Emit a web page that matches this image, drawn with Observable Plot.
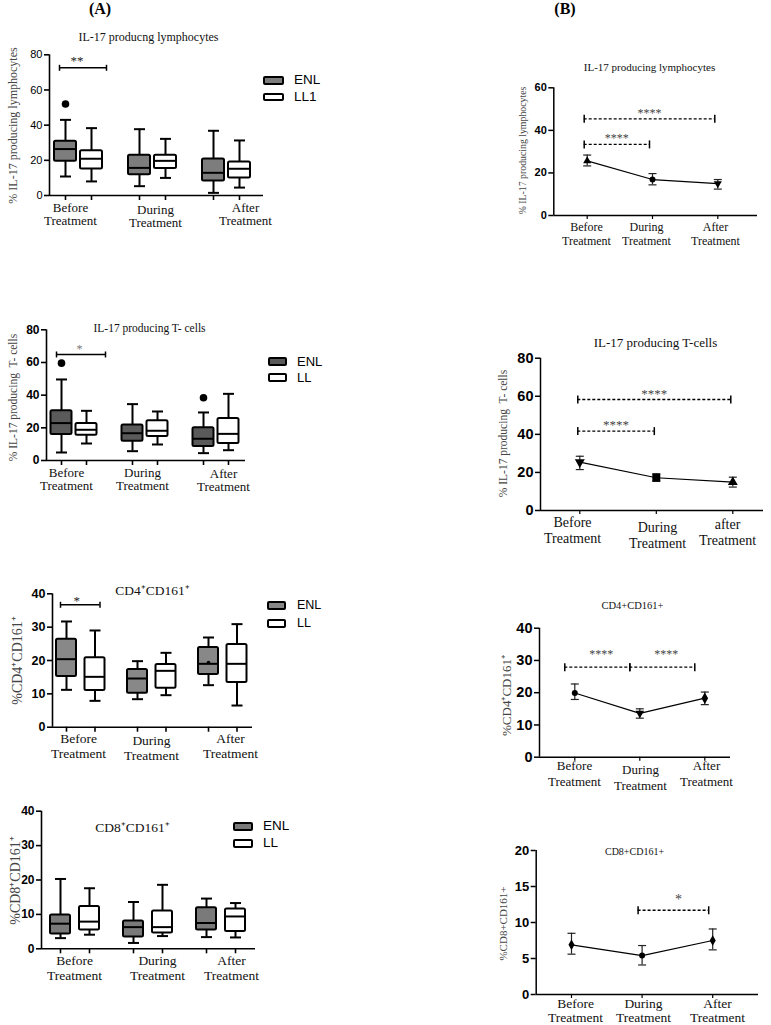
<!DOCTYPE html>
<html><head><meta charset="utf-8">
<script src="https://cdn.jsdelivr.net/npm/d3@7"></script>
<script src="https://cdn.jsdelivr.net/npm/@observablehq/plot@0.6"></script>
<style>
body{margin:0;background:#fff;}
#page{position:relative;width:771px;height:1025px;overflow:hidden;background:#fff;}
.hdr{position:absolute;font:bold 16px 'Liberation Serif','Times New Roman',serif;transform:translate(-50%,-50%);line-height:1;color:#000;}
</style></head><body><div id="page"></div>
<script>
// ---------------- DATA ----------------
const phases = ["Before\nTreatment", "During\nTreatment", "After\nTreatment"];
const phasesB2 = ["Before\nTreatment", "During\nTreatment", "after\nTreatment"];

// (A) box summaries per phase: [min, Q1, median, Q3, max]
const lymphGroups = ["ENL", "LL1"];
const lymphENL = [[10.8, 19.5, 26.4, 30.9, 43.0], [5.3, 11.8, 15.7, 22.9, 37.7], [1.5, 8.3, 12.9, 20.7, 36.8]];
const lymphLL = [[8.0, 15.0, 20.9, 25.4, 38.3], [10.0, 15.4, 19.7, 22.9, 32.2], [4.5, 9.9, 15.2, 19.0, 31.3]];
const lymphOutliers = [{phase: 0, group: 0, value: 52}];
const lymphSig = [{phase: 0, label: "**", level: 72.6}];

const tcellGroups = ["ENL", "LL"];
const tcellENL = [[4.9, 15.9, 22.9, 30.4, 49.6], [5.7, 11.8, 16.7, 21.8, 34.5], [4.5, 8.6, 13.3, 20.0, 29.4]];
const tcellLL = [[10.4, 15.5, 18.8, 22.7, 30.4], [9.8, 14.7, 18.2, 24.3, 30.0], [6.3, 10.4, 16.3, 25.7, 40.8]];
const tcellOutliers = [{phase: 0, group: 0, value: 59.6}, {phase: 2, group: 0, value: 38.4}];
const tcellSig = [{phase: 0, label: "*", level: 64.9}];

const cd4Groups = ["ENL", "LL"];
const cd4ENL = [[11.2, 15.2, 20.4, 26.4, 31.7], [8.4, 10.2, 14.6, 17.3, 19.8], [12.6, 15.8, 19.0, 23.9, 26.9]];
const cd4LL = [[7.9, 11.0, 15.1, 20.8, 29.0], [9.6, 11.7, 16.9, 18.8, 22.3], [6.5, 13.4, 19.0, 24.8, 30.9]];
const cd4Means = [{phase: 2, group: 0, value: 19.4}];
const cd4Sig = [{phase: 0, label: "*", level: 36.7}];

const cd8Groups = ["ENL", "LL"];
const cd8ENL = [[3.1, 4.3, 7.3, 9.8, 20.3], [1.7, 3.4, 6.3, 8.1, 13.6], [3.4, 5.5, 7.5, 11.9, 14.6]];
const cd8LL = [[4.1, 5.5, 7.9, 12.3, 17.6], [3.7, 4.6, 6.3, 11.0, 18.6], [3.3, 5.0, 9.4, 11.6, 13.3]];

// (B) mean with error bars
const lymphMean = [25.7, 16.9, 15.0], lymphLo = [23.3, 14.4, 12.4], lymphHi = [28.4, 19.7, 16.9];
const lymphSigB = [{from: 0, to: 2, level: 45.4, label: "****"}, {from: 0, to: 1, level: 33.4, label: "****"}];
const tcellMean = [25.4, 17.2, 14.9], tcellLo = [21.5, 15.4, 12.3], tcellHi = [28.5, 19.3, 17.5];
const tcellSigB = [{from: 0, to: 2, level: 58.3, label: "****"}, {from: 0, to: 1, level: 41.7, label: "****"}];
const cd4Mean = [19.9, 13.6, 18.3], cd4Lo = [17.9, 12.1, 16.3], cd4Hi = [22.7, 15.0, 20.2];
const cd4SigB = [{from: 0, to: 1, level: 27.9, label: "****"}, {from: 1, to: 2, level: 27.9, label: "****"}];
const cd8Mean = [6.9, 5.4, 7.5], cd8Lo = [5.6, 4.1, 6.2], cd8Hi = [8.5, 6.8, 9.1];
const cd8SigB = [{from: 1, to: 2, level: 11.7, label: "*"}];

// ---------------- HELPERS ----------------
const SERIF = "'Liberation Serif','Times New Roman',serif";
const SANS = "'Liberation Sans',Arial,sans-serif";
const page = document.getElementById("page");

const hbar = {draw(c, size) { const r = Math.sqrt(size / Math.PI); c.moveTo(-r, 0); c.lineTo(r, 0); }};
const vbar = {draw(c, size) { const r = Math.sqrt(size / Math.PI); c.moveTo(0, -r); c.lineTo(0, r); }};
const triUp = {draw(c, size) { const y = -Math.sqrt(size / (Math.sqrt(3) * 3)); c.moveTo(0, 2 * y); c.lineTo(-Math.sqrt(3) * y, -y); c.lineTo(Math.sqrt(3) * y, -y); c.closePath(); }};
const triDown = {draw(c, size) { const y = -Math.sqrt(size / (Math.sqrt(3) * 3)); c.moveTo(0, -2 * y); c.lineTo(-Math.sqrt(3) * y, y); c.lineTo(Math.sqrt(3) * y, y); c.closePath(); }};

function txt(L, s, px, py, opts = {}) {
  return Plot.text([s], {text: d => d, frameAnchor: "top-left", textAnchor: "middle", lineAnchor: "middle",
    dx: px - L.fl, dy: py - L.ft, fontFamily: SERIF, ...opts});
}
function xLabels(L, labels) {
  return labels.map((s, i) => txt(L, s, L.labX[i], L.labY[i] - 0.38 * L.labFont,
    {lineAnchor: "top", fontSize: L.labFont, lineHeight: L.labGap / L.labFont, fill: "#111"}));
}
function mount(L, marks, xDom, yDom) {
  const svg = Plot.plot({
    width: L.w, height: L.h,
    marginLeft: L.fl - L.left, marginRight: L.left + L.w - L.fr,
    marginTop: L.ft - L.top, marginBottom: L.top + L.h - L.fb,
    x: {type: "linear", domain: xDom},
    y: {type: "linear", domain: yDom},
    style: {background: "transparent", overflow: "visible", fontFamily: SERIF},
    marks
  });
  svg.style.position = "absolute";
  svg.style.left = L.left + "px";
  svg.style.top = L.top + "px";
  svg.style.maxWidth = "none";
  page.appendChild(svg);
}
function legend(L, groups) {
  groups.forEach((g, i) => {
    const sw = document.createElement("div");
    sw.style.cssText = `position:absolute;left:${L.legX}px;top:${L.legY + i * L.legGap}px;width:${L.legW}px;height:${L.legH}px;box-sizing:border-box;border:2px solid #000;border-radius:2px;background:${i === 0 ? L.fill : "#fff"}`;
    page.appendChild(sw);
    const t = document.createElement("div");
    t.textContent = g;
    t.style.cssText = `position:absolute;left:${L.legTX}px;top:${L.legY + i * L.legGap + L.legH / 2}px;transform:translateY(-50%);font:${L.legFont}px ${SANS};line-height:1;color:#000`;
    page.appendChild(t);
  });
}

function boxPanel(L, D) {
  const k = L.pxGroup / L.pxSlot;
  const slot = (p, g) => p * k + g;
  const xDom = [(L.fl - L.x0) / L.pxSlot, (L.fr - L.x0) / L.pxSlot];
  const hw = L.boxW / 2 / L.pxSlot;
  const rows = [];
  [D.enl, D.ll].forEach((arr, g) => arr.forEach((s, p) =>
    rows.push({p, g, x: slot(p, g), min: s[0], q1: s[1], med: s[2], q3: s[3], max: s[4]})));
  const outl = (D.outliers || []).map(o => ({x: slot(o.phase, o.group), y: o.value}));
  const means = (D.means || []).map(o => ({x: slot(o.phase, o.group), y: o.value}));
  const sig = (D.sig || []).map(s => ({x1: slot(s.phase, 0) + L.sigL / L.pxSlot, x2: slot(s.phase, 1) + L.sigR / L.pxSlot, y: s.level, label: s.label}));
  sig.forEach(s => s.mid = (s.x1 + s.x2) / 2);
  const sigEnds = sig.flatMap(s => [{x: s.x1, y: s.y}, {x: s.x2, y: s.y}]);
  const marks = [
    Plot.ruleY([0], {stroke: "#000", strokeWidth: 1.6}),
    Plot.ruleX([xDom[0]], {stroke: "#000", strokeWidth: 1.6}),
    Plot.axisY({ticks: D.yTicks, tickSize: 5, tickPadding: 2, strokeWidth: 1.6, fontFamily: SANS,
      fontSize: L.tickFont, fontWeight: L.tickWeight, fill: "#000", label: null}),
    Plot.axisX({ticks: rows.map(d => d.x), tickSize: 5, strokeWidth: 1.6, tickFormat: () => "", label: null}),
    Plot.ruleX(rows, {x: "x", y1: "min", y2: "max", stroke: "#000", strokeWidth: 2}),
    Plot.dot(rows, {x: "x", y: "min", symbol: hbar, r: L.capR, stroke: "#000", strokeWidth: 2, fill: "none"}),
    Plot.dot(rows, {x: "x", y: "max", symbol: hbar, r: L.capR, stroke: "#000", strokeWidth: 2, fill: "none"}),
    Plot.rect(rows, {x1: d => d.x - hw, x2: d => d.x + hw, y1: "q1", y2: "q3",
      fill: d => d.g === 0 ? L.fill : "#fff", stroke: "#000", strokeWidth: 2, rx: 1.5}),
    Plot.ruleY(rows, {x1: d => d.x - hw, x2: d => d.x + hw, y: "med", stroke: "#000", strokeWidth: 2}),
    Plot.dot(outl, {x: "x", y: "y", r: 3.8, fill: "#000"}),
    Plot.dot(means, {x: "x", y: "y", r: 1.8, fill: "#000"}),
    Plot.ruleY(sig, {x1: "x1", x2: "x2", y: "y", stroke: "#000", strokeWidth: 1.5}),
    Plot.dot(sigEnds, {x: "x", y: "y", symbol: vbar, r: 3, stroke: "#000", strokeWidth: 1.5, fill: "none"}),
    Plot.text(sig, {x: "mid", y: "y", text: "label", lineAnchor: "bottom", dx: L.starDx, dy: L.starDy,
      fontFamily: SERIF, fontSize: L.starFont, fill: L.starFill}),
    txt(L, D.title, L.titleX, L.titleY, {fontSize: L.titleFont, fill: "#111"}),
    txt(L, D.ylabel, L.ylabX, L.ylabY, {rotate: -90, fontSize: L.ylabFont, fill: "#444"}),
    ...xLabels(L, D.labels)
  ];
  mount(L, marks, xDom, D.yDom);
  legend(L, D.groups);
}

function linePanel(L, D) {
  const xDom = [(L.fl - L.x0) / L.step, (L.fr - L.x0) / L.step];
  const rows = D.mean.map((m, i) => ({i, m, lo: D.lo[i], hi: D.hi[i]}));
  const sig = D.sig.map(s => ({...s, mid: (s.from + s.to) / 2}));
  const sigEnds = sig.flatMap(s => [{x: s.from, y: s.level}, {x: s.to, y: s.level}]);
  const marks = [
    Plot.ruleY([0], {stroke: "#000", strokeWidth: 1.5}),
    Plot.ruleX([xDom[0]], {stroke: "#000", strokeWidth: 1.5}),
    Plot.axisY({ticks: D.yTicks, tickSize: 5, tickPadding: 2, strokeWidth: 1.5, fontFamily: SANS,
      fontSize: L.tickFont, fontWeight: "bold", fill: "#000", label: null}),
    Plot.axisX({ticks: rows.map(d => d.i), tickSize: 4, strokeWidth: 1.2, tickFormat: () => "", label: null}),
    Plot.line(rows, {x: "i", y: "m", stroke: "#000", strokeWidth: 1.2}),
    Plot.ruleX(rows, {x: "i", y1: "lo", y2: "hi", stroke: "#222", strokeWidth: 1.2}),
    Plot.dot(rows, {x: "i", y: "lo", symbol: hbar, r: 4, stroke: "#222", strokeWidth: 1.2, fill: "none"}),
    Plot.dot(rows, {x: "i", y: "hi", symbol: hbar, r: 4, stroke: "#222", strokeWidth: 1.2, fill: "none"}),
    ...rows.map((r, j) => Plot.dot([r], {x: "i", y: "m", symbol: L.symbols[j], r: L.markR[j], fill: "#000", stroke: "none"})),
    Plot.ruleY(sig, {x1: "from", x2: "to", y: "level", stroke: "#000", strokeWidth: 1.3, strokeDasharray: "3,2", dx: L.sigDx}),
    Plot.dot(sigEnds, {x: "x", y: "y", symbol: vbar, r: 4, stroke: "#000", strokeWidth: 1.5, fill: "none", dx: L.sigDx}),
    Plot.text(sig, {x: "mid", y: "level", text: "label", lineAnchor: "bottom", dx: L.sigDx + L.starDx, dy: L.starDy,
      fontFamily: SERIF, fontSize: L.starFont, fill: "#444"}),
    txt(L, D.title, L.titleX, L.titleY, {fontSize: L.titleFont, fill: "#111"}),
    txt(L, D.ylabel, L.ylabX, L.ylabY, {rotate: -90, fontSize: L.ylabFont, fill: "#444"}),
    ...xLabels(L, D.labels)
  ];
  mount(L, marks, xDom, D.yDom);
}

// ---------------- HEADERS ----------------
[["(A)", 100, 9], ["(B)", 565, 9]].forEach(([s, x, y]) => {
  const d = document.createElement("div"); d.className = "hdr"; d.textContent = s;
  d.style.left = x + "px"; d.style.top = y + "px"; page.appendChild(d);
});

// ---------------- PANELS (A) ----------------
boxPanel({left: 0, top: 0, w: 400, h: 240, fl: 49, fr: 263, ft: 54.3, fb: 195,
  x0: 65, pxSlot: 26, pxGroup: 74, boxW: 22, capR: 5.5, fill: "#7d7d7d",
  tickFont: 11, tickWeight: "normal",
  titleX: 148, titleY: 37, titleFont: 12, ylabX: 13, ylabY: 125, ylabFont: 12,
  labX: [70, 155, 245], labY: [206, 208, 206], labGap: 14, labFont: 13,
  sigL: -6, sigR: 15, starDx: -6, starDy: -2.5, starFont: 13, starFill: "#222",
  legX: 263, legY: 76, legW: 21, legH: 8.5, legGap: 16.7, legTX: 294, legFont: 13.5
}, {enl: lymphENL, ll: lymphLL, outliers: lymphOutliers, sig: lymphSig, groups: lymphGroups,
  yDom: [0, 80], yTicks: [0, 20, 40, 60, 80], title: "IL-17 producng lymphocytes",
  ylabel: "% IL-17 producing lymphocytes", labels: phases});

boxPanel({left: 0, top: 250, w: 400, h: 260, fl: 46, fr: 245, ft: 329.3, fb: 460,
  x0: 61, pxSlot: 25, pxGroup: 71, boxW: 21, capR: 5.5, fill: "#5a5a5a",
  tickFont: 12, tickWeight: "bold",
  titleX: 149, titleY: 328, titleFont: 11.5, ylabX: 13, ylabY: 397, ylabFont: 11.5,
  labX: [66, 142, 223], labY: [471, 471, 472], labGap: 14, labFont: 13,
  sigL: -5, sigR: 19, starDx: -1.5, starDy: -1, starFont: 12, starFill: "#777",
  legX: 268, legY: 357, legW: 19, legH: 8.5, legGap: 16, legTX: 297, legFont: 13
}, {enl: tcellENL, ll: tcellLL, outliers: tcellOutliers, sig: tcellSig, groups: tcellGroups,
  yDom: [0, 80], yTicks: [0, 20, 40, 60, 80], title: "IL-17 producing T- cells",
  ylabel: "% IL-17 producing  T- cells", labels: phases});

boxPanel({left: 0, top: 540, w: 400, h: 230, fl: 52, fr: 252, ft: 593.3, fb: 726.7,
  x0: 66, pxSlot: 28.5, pxGroup: 71, boxW: 20, capR: 5.5, fill: "#888888",
  tickFont: 12.5, tickWeight: "bold",
  titleX: 152, titleY: 590, titleFont: 13.5, ylabX: 17, ylabY: 660, ylabFont: 14,
  labX: [78, 151, 230], labY: [737, 739, 737], labGap: 15, labFont: 13.5,
  sigL: -6, sigR: 5, starDx: -3.5, starDy: 0, starFont: 13, starFill: "#222",
  legX: 267, legY: 601, legW: 19, legH: 8.5, legGap: 18, legTX: 297, legFont: 12.5
}, {enl: cd4ENL, ll: cd4LL, means: cd4Means, sig: cd4Sig, groups: cd4Groups,
  yDom: [0, 40], yTicks: [0, 10, 20, 30, 40], title: "CD4⁺CD161⁺",
  ylabel: "%CD4⁺CD161⁺", labels: phases});

boxPanel({left: 0, top: 790, w: 400, h: 200, fl: 41, fr: 255, ft: 810.7, fb: 948.3,
  x0: 60, pxSlot: 29, pxGroup: 73, boxW: 20, capR: 5.5, fill: "#7a7a7a",
  tickFont: 12, tickWeight: "bold",
  titleX: 132, titleY: 827, titleFont: 13.5, ylabX: 15, ylabY: 880, ylabFont: 14,
  labX: [74, 157, 231], labY: [959, 959, 959], labGap: 15, labFont: 13.5,
  sigL: 0, sigR: 0, starDx: 0, starDy: 0, starFont: 13, starFill: "#222",
  legX: 233, legY: 822, legW: 20, legH: 8.5, legGap: 17, legTX: 263, legFont: 13.5
}, {enl: cd8ENL, ll: cd8LL, sig: [], groups: cd8Groups,
  yDom: [0, 40], yTicks: [0, 10, 20, 30, 40], title: "CD8⁺CD161⁺",
  ylabel: "%CD8⁺CD161⁺", labels: phases});

// ---------------- PANELS (B) ----------------
linePanel({left: 470, top: 40, w: 301, h: 220, fl: 553.3, fr: 757, ft: 87.3, fb: 215,
  x0: 586.7, step: 65.3, tickFont: 11,
  titleX: 649, titleY: 67, titleFont: 11, ylabX: 522, ylabY: 150, ylabFont: 9.8,
  labX: [586, 646, 715], labY: [225, 225, 225], labGap: 14, labFont: 12,
  symbols: [triUp, "circle", triDown], markR: [3, 3, 3],
  sigDx: -3, starDx: 0, starDy: -2, starFont: 12
}, {mean: lymphMean, lo: lymphLo, hi: lymphHi, sig: lymphSigB, yDom: [0, 60], yTicks: [0, 20, 40, 60],
  title: "IL-17 producing lymphocytes", ylabel: "% IL-17 producing lymphocytes", labels: phases});

linePanel({left: 470, top: 320, w: 301, h: 230, fl: 540, fr: 763, ft: 357.7, fb: 510,
  x0: 579.3, step: 76.5, tickFont: 14.5,
  titleX: 655, titleY: 342, titleFont: 13, ylabX: 503, ylabY: 433, ylabFont: 11.5,
  labX: [572, 657, 727], labY: [520, 525, 522], labGap: 16, labFont: 14,
  symbols: [triDown, "square", triUp], markR: [3.7, 4.5, 3.7],
  sigDx: -2, starDx: 0, starDy: -2, starFont: 13
}, {mean: tcellMean, lo: tcellLo, hi: tcellHi, sig: tcellSigB, yDom: [0, 80], yTicks: [0, 20, 40, 60, 80],
  title: "IL-17 producing T-cells", ylabel: "% IL-17 producing  T- cells", labels: phasesB2});

linePanel({left: 470, top: 590, w: 301, h: 200, fl: 539, fr: 730, ft: 627.7, fb: 756.7,
  x0: 574.3, step: 65, tickFont: 14.5,
  titleX: 632, titleY: 605, titleFont: 10.5, ylabX: 506, ylabY: 695, ylabFont: 13,
  labX: [574, 640, 706], labY: [763, 767, 763], labGap: 16, labFont: 13,
  symbols: ["circle", triDown, "diamond"], markR: [3, 3.2, 3.5],
  sigDx: -10, starDx: 4, starDy: -9, starFont: 12
}, {mean: cd4Mean, lo: cd4Lo, hi: cd4Hi, sig: cd4SigB, yDom: [0, 40], yTicks: [0, 10, 20, 30, 40],
  title: "CD4+CD161+", ylabel: "%CD4⁺CD161⁺", labels: phases});

linePanel({left: 470, top: 840, w: 301, h: 185, fl: 535.7, fr: 758, ft: 850, fb: 994,
  x0: 571, step: 70.6, tickFont: 13,
  titleX: 634, titleY: 851, titleFont: 10, ylabX: 503, ylabY: 923, ylabFont: 11,
  labX: [575, 643, 717], labY: [1002, 1002, 1002], labGap: 14.5, labFont: 13.5,
  symbols: ["diamond", "circle", "diamond"], markR: [3.2, 3, 3.2],
  sigDx: -4, starDx: 5, starDy: -6, starFont: 14
}, {mean: cd8Mean, lo: cd8Lo, hi: cd8Hi, sig: cd8SigB, yDom: [0, 20], yTicks: [0, 5, 10, 15, 20],
  title: "CD8+CD161+", ylabel: "%CD8+CD161+", labels: phases});
</script></body></html>
